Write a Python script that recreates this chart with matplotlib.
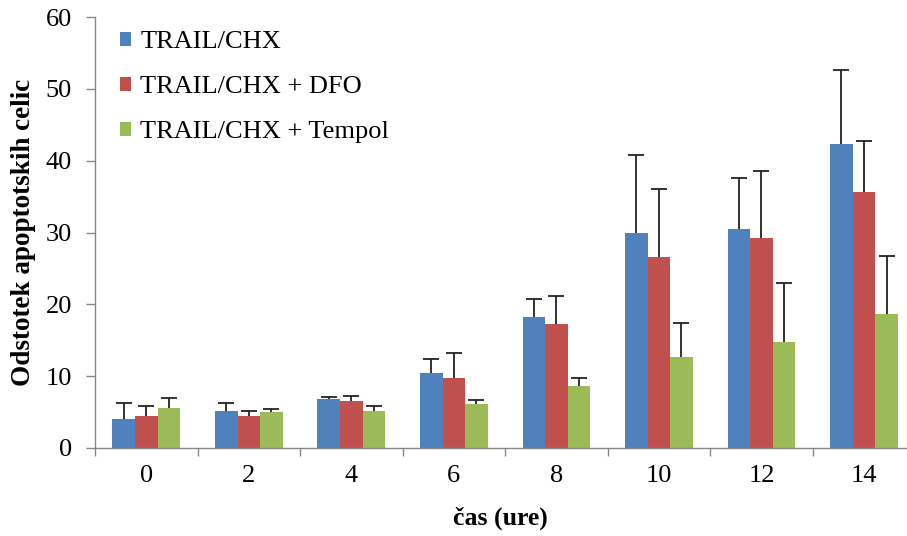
import numpy as np
import matplotlib.pyplot as plt
from matplotlib.ticker import FixedLocator

# Data
hours = ['0', '2', '4', '6', '8', '10', '12', '14']
trail = [4.1, 5.2, 6.8, 10.4, 18.2, 30.0, 30.5, 42.3]
trail_err = [2.1, 1.0, 0.3, 2.0, 2.6, 10.8, 7.1, 10.3]
dfo = [4.5, 4.5, 6.6, 9.7, 17.2, 26.6, 29.3, 35.7]
dfo_err = [1.4, 0.7, 0.7, 3.5, 4.0, 9.4, 9.2, 7.1]
tempol = [5.5, 5.0, 5.2, 6.1, 8.7, 12.7, 14.8, 18.6]
tempol_err = [1.4, 0.4, 0.65, 0.6, 1.1, 4.7, 8.2, 8.1]

labels = ['TRAIL/CHX', 'TRAIL/CHX + DFO', 'TRAIL/CHX + Tempol']
colors = ['#4f81bd', '#c0504d', '#9bbb59']

plt.rcParams['font.family'] = ['Liberation Serif', 'DejaVu Serif']

fig = plt.figure(figsize=(9.07, 5.36), dpi=100)
ax = fig.add_axes([95 / 907, 1 - 448 / 536, (906 - 95) / 907, (448 - 17) / 536])

x = np.arange(len(hours))
w = 0.22
series = [(trail, trail_err), (dfo, dfo_err), (tempol, tempol_err)]
for i, (vals, errs) in enumerate(series):
    xs = x + (i - 1) * w
    vals = np.array(vals)
    errs = np.array(errs)
    ax.bar(xs, vals, w, color=colors[i], label=labels[i], zorder=2)
    # only the upper half of the error bar, cap on top only
    ax.vlines(xs, vals, vals + errs, color='#222222', lw=1.3, zorder=3)
    ax.plot(xs, vals + errs, ls='none', marker='_', ms=11, mew=1.3,
            color='#222222', zorder=3)

ax.set_xlim(-0.5, 7.41)
ax.set_ylim(0, 60)
ax.set_yticks(range(0, 61, 10))
ax.set_xticks(x)
ax.set_xticklabels(hours)
ax.xaxis.set_minor_locator(FixedLocator(np.arange(-0.5, 8, 1)))
ax.tick_params(axis='x', which='major', length=0, labelsize=19, pad=12)
ax.tick_params(axis='x', which='minor', length=6, color='#868686', width=1)
ax.tick_params(axis='y', length=6.5, color='#868686', width=1, labelsize=19, pad=10)

for s in ['top', 'right']:
    ax.spines[s].set_visible(False)
for s in ['left', 'bottom']:
    ax.spines[s].set_color('#868686')
    ax.spines[s].set_linewidth(1)

ax.set_xlabel('čas (ure)', fontsize=18.5, fontweight='bold', labelpad=14)
ax.set_ylabel('Odstotek apoptotskih celic', fontsize=19.5, fontweight='bold', labelpad=7)

ax.legend(loc='upper left', bbox_to_anchor=(0.031, 0.967), frameon=False, fontsize=19,
          borderpad=0, borderaxespad=0,
          handlelength=0.42, handleheight=0.42, handletextpad=0.35, labelspacing=0.87)

fig.savefig('out.png', dpi=100)
